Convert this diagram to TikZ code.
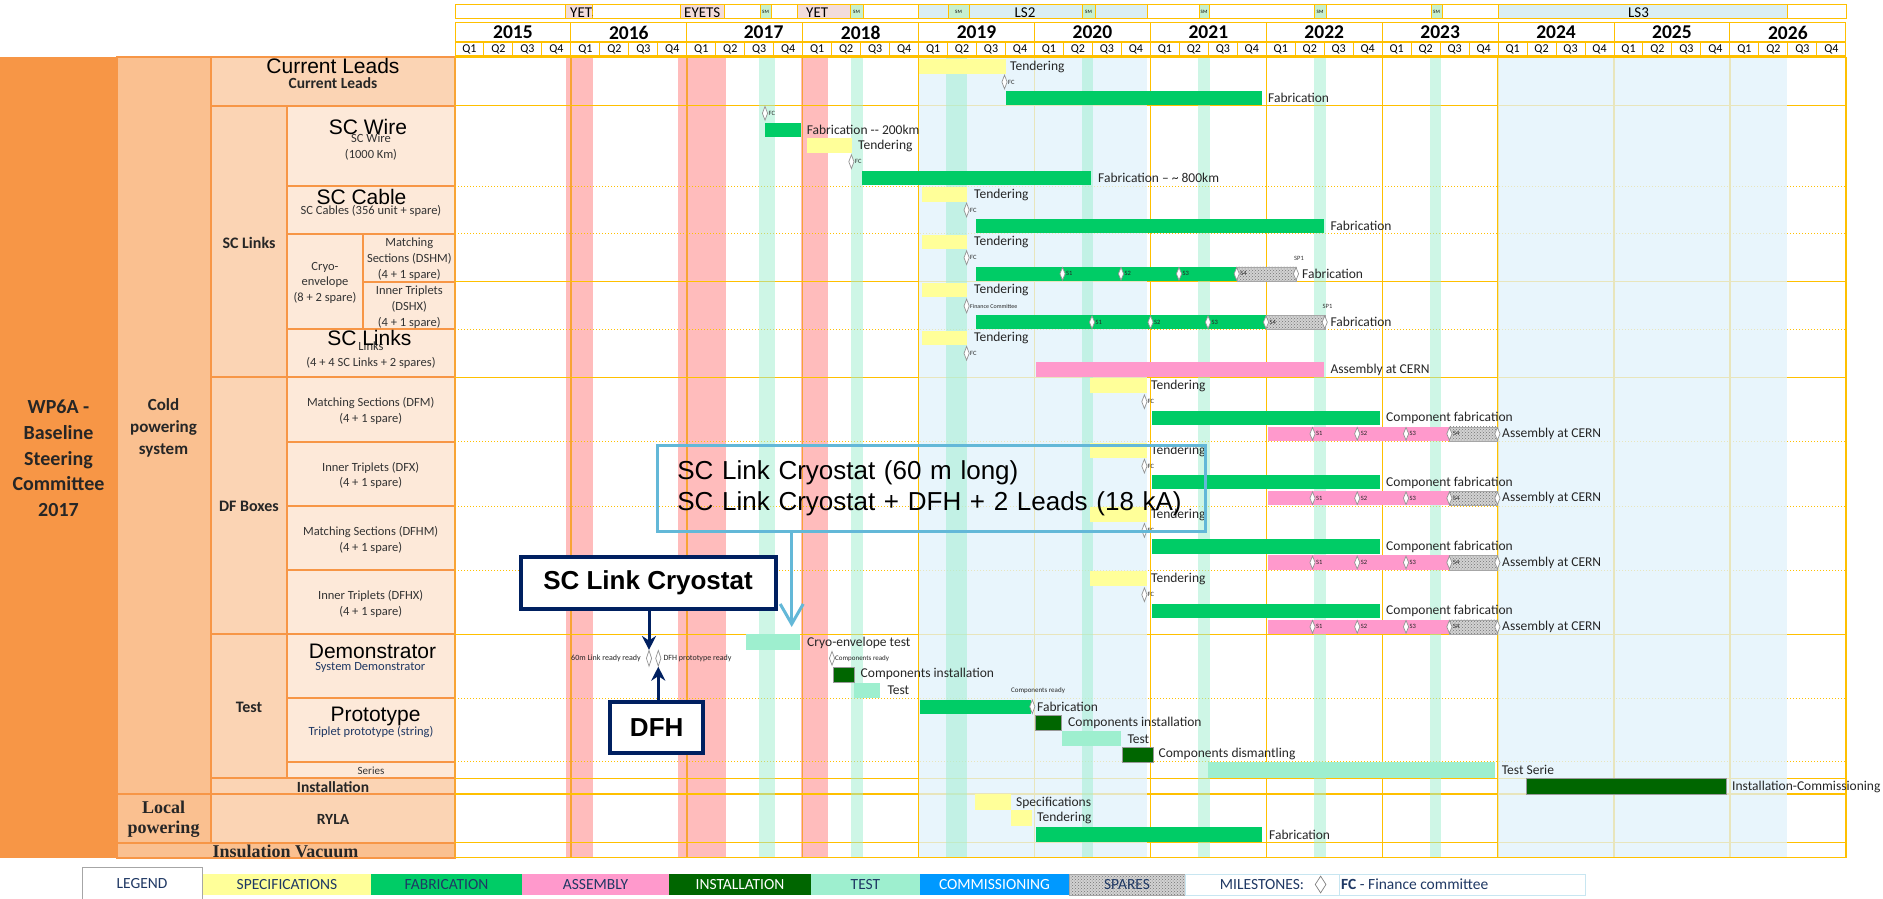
\documentclass[tikz,border=0pt]{standalone}
\usepackage{fontspec}
\setmainfont{Carlito}
\newfontfamily\arialfont{Liberation Sans}
\newfontfamily\cambriafont{Liberation Serif}
\usetikzlibrary{arrows.meta,shapes.geometric,patterns}

% Colori
\definecolor{wporange}{HTML}{F79646}
\definecolor{colddark}{HTML}{FAC090}
\definecolor{cellmid}{HTML}{FBD4B4}
\definecolor{celllight}{HTML}{FDE9D9}
\definecolor{gridgold}{HTML}{FFC000}
\definecolor{gridorange}{HTML}{F8A435}
\definecolor{yetpink}{HTML}{FF9999}
\definecolor{lsblue}{HTML}{E1F2FC}
\definecolor{hdrblue}{HTML}{DAEEF3}
\definecolor{hdrpink}{HTML}{F2DCDB}
\definecolor{smgreen}{HTML}{C6EFCE}
\definecolor{specyellow}{HTML}{FFFF99}
\definecolor{fabgreen}{HTML}{00CC66}
\definecolor{asspink}{HTML}{FF99CC}
\definecolor{instgreen}{HTML}{006600}
\definecolor{testgreen}{HTML}{9EEFCF}
\definecolor{commblue}{HTML}{0099FF}
\definecolor{darknavy}{HTML}{002060}
\definecolor{calloutcyan}{HTML}{63B8D8}
\definecolor{txtdark}{HTML}{262626}
\definecolor{txtgray}{HTML}{333333}
\definecolor{txtnavy}{HTML}{1F3864}

\newcommand{\fsz}[1]{\fontsize{#1}{#1}\selectfont}

\begin{document}
\begin{tikzpicture}[x=1pt, y=-1pt,
  hdr/.style={draw=gridgold, line width=1pt},
  lcell/.style={draw=wporange, line width=1.3pt},
  spec/.style={fill=specyellow},
  fab/.style={fill=fabgreen},
  ass/.style={fill=asspink},
  inst/.style={fill=instgreen, draw=gray!80, line width=.4pt},
  tst/.style={fill=testgreen},
  spare/.style={preaction={fill=gray!35}, pattern=crosshatch dots, pattern color=gray!90!black, draw=gray!70, line width=.4pt},
  lbl/.style={anchor=west, inner sep=0pt, font=\fsz{13.5}, text=txtdark},
  tiny/.style={anchor=west, inner sep=0pt, font=\fsz{6.5}, text=txtdark},
  ms/.style={diamond, draw=gray!85, fill=white, line width=.7pt, inner sep=0pt, minimum width=5.5pt, minimum height=14pt},
  bigname/.style={font=\arialfont\fsz{21}, text=black, inner sep=0pt},
  subname/.style={font=\fsz{12.5}, text=txtgray, inner sep=0pt, align=center},
  groupname/.style={font=\bfseries\fsz{16}, text=txtdark, inner sep=0pt},
  calloutbox/.style={draw=darknavy, line width=4pt, fill=white, font=\arialfont\bfseries\fsz{26}, text=black},
  navyarrow/.style={draw=darknavy, line width=3pt, -{Stealth[length=14pt,width=14pt]}},
  cyanarrow/.style={draw=calloutcyan, line width=3pt, -{Straight Barb[length=20pt,width=23pt]}},
  legbox/.style={font=\fsz{15.5}, text=txtnavy}
]
\useasboundingbox (0,0) rectangle (1883,899);
\fill[white] (0,0) rectangle (1883,899);

% Colonne di sinistra
\fill[wporange] (0,57) rectangle (117,858);
\draw[lcell, fill=colddark] (117,57) rectangle (211,794);
\draw[lcell, fill=colddark] (117,794) rectangle (211,843);
\draw[lcell, fill=colddark] (117,843) rectangle (455,858);
\foreach \a/\b/\c/\d in {211/57/455/106, 211/106/287/377, 211/377/287/634, 211/634/287/778,
                         211/778/455/794, 211/794/455/843}
  \draw[lcell, fill=cellmid] (\a,\b) rectangle (\c,\d);
\foreach \a/\b/\c/\d in {287/106/455/186, 287/186/455/234, 287/234/363/329, 363/234/455/282,
                         363/282/455/329, 287/329/455/377, 287/377/455/442, 287/442/455/506,
                         287/506/455/570, 287/570/455/634, 287/634/455/698, 287/698/455/762,
                         287/762/455/778}
  \draw[lcell, fill=celllight] (\a,\b) rectangle (\c,\d);

% Testi di sinistra
\node[font=\fontsize{20}{25.7}\selectfont\bfseries, text=txtdark, align=center] (wp) at (58.5,458.5)
  {WP6A -\\Baseline\\Steering\\Committee\\2017};
\node[font=\fontsize{17}{22}\selectfont\bfseries, text=txtdark, align=center] (cold) at (163.5,427.7)
  {Cold\\powering\\system};
\node[font=\fontsize{18}{20}\selectfont\cambriafont\bfseries, text=txtdark, align=center] (local) at (163.5,819.3)
  {Local\\powering};
\node[font=\cambriafont\bfseries\fsz{18}, text=txtdark, inner sep=0pt] (insvac) at (285.5,851.5) {Insulation Vacuum};
\node[groupname] (sclinks) at (249,242.7) {SC Links};
\node[groupname] (dfboxes) at (249,506.7) {DF Boxes};
\node[groupname] (test) at (249,707) {Test};
\node[groupname, font=\bfseries\fsz{15.5}] (install) at (333,787.3) {Installation};
\node[groupname, font=\bfseries\fsz{15.5}] (rylab) at (333,819) {RYLA};

\node[bigname] (curl) at (333,66) {Current Leads};
\node[groupname, font=\bfseries\fsz{15.5}] at (333,82.7) {Current Leads};
\node[bigname] (wire) at (368,126.7) {SC Wire};
\node[subname] at (371,138.7) {SC Wire};
\node[subname] at (371,154.3) {(1000 Km)};
\node[bigname] (cable) at (361.5,196.7) {SC Cable};
\node[subname] at (371,211) {SC Cables (356 unit + spare)};
\node[subname, font=\fontsize{12.5}{15.5}\selectfont] at (325,282.7) {Cryo-\\envelope\\(8 + 2 spare)};
\node[subname, font=\fontsize{12.5}{16}\selectfont] at (409.3,258.7) {Matching\\Sections (DSHM)\\(4 + 1 spare)};
\node[subname, font=\fontsize{12.5}{16}\selectfont] at (409.3,306.7) {Inner Triplets\\(DSHX)\\(4 + 1 spare)};
\node[subname] at (371,346.7) {Links};
\node[bigname] (links) at (369.3,338.3) {SC Links};
\node[subname] at (371,362.7) {(4 + 4 SC Links + 2 spares)};
\foreach \t [count=\i from 0] in {Matching Sections (DFM), Inner Triplets (DFX), Matching Sections (DFHM), Inner Triplets (DFHX)}{
  \node[subname] at (370.7,{403.3+64.3*\i}) {\t};
  \node[subname] at (370.7,{419+64.3*\i}) {(4 + 1 spare)};
}
\node[bigname] (demo) at (372.5,651) {Demonstrator};
\node[subname, text=txtnavy] at (370.3,667.3) {System Demonstrator};
\node[bigname] (proto) at (375.5,716.7) {Prototype};
\node[subname, text=txtnavy] at (371,731.7) {Triplet prototype (string)};
\node[subname, font=\fsz{11}] at (371,770.7) {Series};

% Intestazione: fermi macchina
\foreach \a/\b/\c in {455/565/white, 565/592/hdrpink, 592/680/white, 680/724/hdrpink, 724/760/white,
                      760/771/smgreen, 771/797/white, 797/850/hdrpink, 850/863/smgreen, 863/918/white,
                      918/948/hdrblue, 948/969/smgreen, 969/1082/hdrblue, 1082/1095/smgreen,
                      1095/1147/hdrblue, 1147/1199/white, 1199/1209/smgreen, 1209/1314/white,
                      1314/1326/smgreen, 1326/1431/white, 1431/1442/smgreen, 1442/1498/white,
                      1498/1787/hdrblue, 1787/1846/white}
  \draw[hdr, fill=\c] (\a,5) rectangle (\b,19);
\begin{scope}
  \clip (565,5) rectangle (592,19);
  \node[anchor=west, inner sep=0pt, font=\fsz{15}] at (570,12.5) {YETS};
\end{scope}
\begin{scope}
  \clip (680,5) rectangle (724,19);
  \node[anchor=west, inner sep=0pt, font=\fsz{15}] at (684,12.5) {EYETS};
\end{scope}
\node[anchor=west, inner sep=0pt, font=\fsz{15}] at (806,12.5) {YET};
\node[inner sep=0pt, font=\fsz{15}] at (1025,12.5) {LS2};
\node[inner sep=0pt, font=\fsz{15}] at (1638.5,12.5) {LS3};
\foreach \m in {765.5,856.5,958.5,1088.5,1204,1320,1436.5}
  \node[inner sep=0pt, font=\fsz{5}] at (\m,12) {SM};

% Intestazione: anni e trimestri
\foreach \yr [count=\k from 0] in {2015,...,2026}{
  \draw[hdr, fill=white] ({455+115.9*\k},23) rectangle ++(115.9,19);
  \pgfmathsetmacro\xc{\yr==2017 ? 763.6 : 455+115.9*(\k+.5)}
  \node[font=\bfseries\fsz{19.5}, inner sep=0pt] at (\xc,32.5) {\yr};
}
\foreach \q in {0,...,47}{
  \pgfmathtruncatemacro\qq{mod(\q,4)+1}
  \draw[hdr, fill=white] ({455+28.975*\q},43) rectangle ++(28.975,13);
  \node[font=\fsz{12}, inner sep=0pt] at ({455+28.975*(\q+.5)},49.5) {Q\qq};
}

% Fasce di sfondo e griglia
\foreach \a/\b in {565.5/593, 678.3/726, 801/828}
  \fill[yetpink, opacity=.65] (\a,57) rectangle (\b,858);
\foreach \k in {0,...,3}
  \draw[gridorange, line width=1.4pt] ({455+115.9*\k},57) -- ({455+115.9*\k},858);
\foreach \k in {4,...,12}
  \draw[gridgold, line width=1.4pt] ({455+115.9*\k},57) -- ({455+115.9*\k},858);
\foreach \y in {57,105.7,281.7,377.3,634.3,778.3,794,842.7,857.7}
  \draw[gridgold, line width=1.4pt] (455,\y) -- (1846,\y);
\foreach \y in {186,233.7,329.3,441.7,506,570.3,698.3,761.7}
  \draw[gridgold, line width=1pt, dotted] (455,\y) -- (1846,\y);
\fill[lsblue, opacity=.75] (919.4,57.7) rectangle (1147,857);
\fill[lsblue, opacity=.75] (1498,57.7) rectangle (1787,857);
\foreach \a/\b in {759.3/775, 851/863, 946/967, 1082/1093, 1198/1210, 1314/1326, 1430/1441}
  \fill[testgreen, opacity=.5] (\a,57.7) rectangle (\b,857);

% Current Leads
\fill[spec] (919,59) rectangle (1005.6,74);
\node[lbl] at (1010,66.5) {Tendering};
\node[ms] at (1004.5,82) {};
\node[tiny] at (1008,82) {FC};
\fill[fab] (1005.6,90.7) rectangle (1261.5,105);
\node[lbl] at (1268,98) {Fabrication};

% SC Wire
\node[ms] at (765,113.3) {};
\node[tiny] at (768.5,113.3) {FC};
\fill[fab] (765.3,122.7) rectangle (801,137.3);
\node[lbl] at (806.6,130) {Fabrication -{}- 200km};
\fill[spec] (806.6,138) rectangle (852,153);
\node[lbl] at (858,145.5) {Tendering};
\node[ms] at (851.4,161.7) {};
\node[tiny] at (855,161.7) {FC};
\fill[fab] (861.7,170.7) rectangle (1090.5,185);
\node[lbl] at (1098,178) {Fabrication -- \textasciitilde\ 800km};

% SC Cable
\fill[spec] (922,187.3) rectangle (967.4,201.7);
\node[lbl] at (974,194.5) {Tendering};
\node[ms] at (966.6,210) {};
\node[tiny] at (970,210) {FC};
\fill[fab] (975.8,219) rectangle (1324,233.3);
\node[lbl] at (1330.4,226) {Fabrication};

% Involucro criogenico DSHM
\fill[spec] (922,235) rectangle (967.4,249.3);
\node[lbl] at (974,242) {Tendering};
\node[ms] at (966.6,257.7) {};
\node[tiny] at (970,257.7) {FC};
\fill[fab] (975.8,266.7) rectangle (1236.7,281);
\fill[spare] (1236.7,266.7) rectangle (1296,281);
\foreach \s/\n in {1062.5/1,1121/2,1179/3,1236.7/4}{
  \node[ms, minimum height=13pt] at (\s,273.8) {};
  \node[tiny] at ({\s+3.5},273.8) {S\n};
}
\node[ms, minimum height=13pt] at (1296,273.8) {};
\node[font=\fsz{6.5}, text=txtgray, inner sep=0pt] at (1299,258) {SP1};
\node[lbl] at (1302,274) {Fabrication};

% Involucro criogenico DSHX
\fill[spec] (922,282.7) rectangle (967.4,297.3);
\node[lbl] at (974,290) {Tendering};
\node[ms] at (966.6,306) {};
\node[tiny, font=\fsz{6}] at (970,306) {Finance Committee};
\fill[fab] (975.8,315) rectangle (1266,329.3);
\fill[spare] (1266,315) rectangle (1324.7,329.3);
\foreach \s/\n in {1092/1,1150.5/2,1208/3,1266/4}{
  \node[ms, minimum height=13pt] at (\s,322.2) {};
  \node[tiny] at ({\s+3.5},322.2) {S\n};
}
\node[ms, minimum height=13pt] at (1324.7,322.2) {};
\node[font=\fsz{6.5}, text=txtgray, inner sep=0pt] at (1327.5,306) {SP1};
\node[lbl] at (1330.4,322) {Fabrication};

% SC Links
\fill[spec] (922,330.7) rectangle (967.4,345.3);
\node[lbl] at (974,338) {Tendering};
\node[ms] at (966.6,353.3) {};
\node[tiny] at (970,353.3) {FC};
\fill[ass] (1035.7,362.3) rectangle (1324,376.7);
\node[lbl] at (1330.4,369.5) {Assembly at CERN};

% DF Boxes
\foreach \T in {377.3,441.7,506,570.3}{
  \fill[spec] (1090,{\T+1}) rectangle (1147,{\T+16});
  \node[lbl] at (1151,{\T+9}) {Tendering};
  \node[ms] at (1144.4,{\T+24.4}) {};
  \node[tiny] at (1147.5,{\T+24.4}) {FC};
  \fill[fab] (1151.6,{\T+33.4}) rectangle (1379.8,{\T+47.7});
  \node[lbl] at (1386,{\T+41}) {Component fabrication};
  \fill[ass] (1268.3,{\T+49.4}) rectangle (1449.4,{\T+63.7});
  \fill[spare] (1449.4,{\T+49.4}) rectangle (1497.4,{\T+63.7});
  \foreach \s/\n in {1312.5/1,1357.2/2,1406/3,1449.4/4}{
    \node[ms, minimum height=13pt] at (\s,{\T+56.5}) {};
    \node[tiny] at ({\s+3.5},{\T+56.5}) {S\n};
  }
  \node[ms, minimum height=13pt] at (1497.4,{\T+56.5}) {};
  \node[lbl] at (1502,{\T+56.5}) {Assembly at CERN};
}

% Dimostratore
\node[ms, minimum height=16pt] (ms60) at (649,658.3) {};
\node[ms, minimum height=16pt] (msdfh) at (658.3,658.3) {};
\node[tiny, anchor=east, font=\fsz{8}] at (641,658.3) {60m Link ready ready};
\node[tiny, font=\fsz{8}] at (663.3,658.3) {DFH prototype ready};
\fill[tst] (745.7,634.3) rectangle (800,650);
\node[lbl] at (807,642.5) {Cryo-envelope test};
\coordinate (cryotop) at (791.7,627);
\node[ms] at (832,658.3) {};
\node[tiny, font=\fsz{7}] at (835,658.3) {Components ready};
\fill[inst] (832.9,666.7) rectangle (853.8,681.7);
\node[lbl] at (860.5,674.3) {Components installation};
\fill[tst] (854.3,682.7) rectangle (879.7,698.3);
\node[lbl] at (887.3,690.5) {Test};

% Prototipo
\node[tiny, anchor=center, font=\fsz{7}] at (1038,690.7) {Components ready};
\fill[fab] (919.8,700) rectangle (1031.4,714);
\node[ms] at (1032.3,706.7) {};
\node[lbl] at (1037,706.7) {Fabrication};
\fill[inst] (1035.5,715) rectangle (1061,730);
\node[lbl] at (1068,723) {Components installation};
\fill[tst] (1062,730.7) rectangle (1121,746);
\node[lbl] at (1127.3,739) {Test};
\fill[inst] (1121.8,746.7) rectangle (1153,761.7);
\node[lbl] at (1158.4,754.3) {Components dismantling};

% Serie e installazione
\fill[tst] (1208.4,762.3) rectangle (1495,777.7);
\node[lbl] at (1501.6,770.3) {Test Serie};
\fill[inst] (1526.3,778.6) rectangle (1726,794);
\node[lbl] at (1732,786.5) {Installation-Commissioning};

% RYLA
\fill[spec] (974.9,794.3) rectangle (1010.7,810);
\node[lbl] at (1016,802.5) {Specifications};
\fill[spec] (1010.7,810) rectangle (1032.3,826);
\node[lbl] at (1037,818) {Tendering};
\fill[fab] (1035.5,826.7) rectangle (1262.2,841.7);
\node[lbl] at (1269,834.5) {Fabrication};

% Riquadri e frecce
\node[draw=calloutcyan, line width=3pt, minimum width=548pt, minimum height=86pt,
      text width=508pt, align=left, font=\arialfont\fontsize{26}{31.7}\selectfont] (cryobox) at (931.4,488.3)
  {SC Link Cryostat (60 m long)\\SC Link Cryostat + DFH + 2 Leads (18 kA)};
\draw[cyanarrow] (cryobox.south -| cryotop) -- (cryotop);
\node[calloutbox, minimum width=255pt, minimum height=52pt] (cryolbl) at (648,583) {SC Link Cryostat};
\node[calloutbox, minimum width=93pt, minimum height=51pt] (dfhlbl) at (656.7,727.5) {DFH};
\draw[navyarrow] (cryolbl.south -| ms60) -- (ms60.north);
\draw[navyarrow] (dfhlbl.north -| msdfh) -- (msdfh.south);

% Legenda
\draw[gray!70, line width=1pt, fill=white] (82,867) rectangle (202,900);
\node[legbox] at (142,884) {LEGEND};
\foreach \a/\b/\c/\t in {203/371/specyellow/SPECIFICATIONS, 371/522/fabgreen/FABRICATION,
                         522/669/asspink/ASSEMBLY, 811/920/testgreen/TEST}{
  \fill[\c] (\a,874) rectangle (\b,895);
  \node[legbox] at ({(\a+\b)/2},884.5) {\t};
}
\fill[instgreen] (669,874) rectangle (811,895);
\node[legbox, text=white] at (740,884.5) {INSTALLATION};
\fill[commblue] (920,874) rectangle (1069,895);
\node[legbox, text=white] at (994.5,884.5) {COMMISSIONING};
\fill[spare] (1069,874) rectangle (1185,895);
\node[legbox] at (1127,884.5) {SPARES};
\draw[calloutcyan!35, line width=.8pt] (1185,874) rectangle (1339,895);
\node[legbox] at (1262,884.5) {MILESTONES:};
\node[ms, minimum width=11pt, minimum height=17pt, draw=gray] at (1320.6,884.5) {};
\draw[calloutcyan!35, line width=.8pt] (1339,874) rectangle (1585,895);
\node[legbox, anchor=west, inner sep=0pt] at (1341,884.5) {\textbf{FC} - Finance committee};
\end{tikzpicture}
\end{document}
